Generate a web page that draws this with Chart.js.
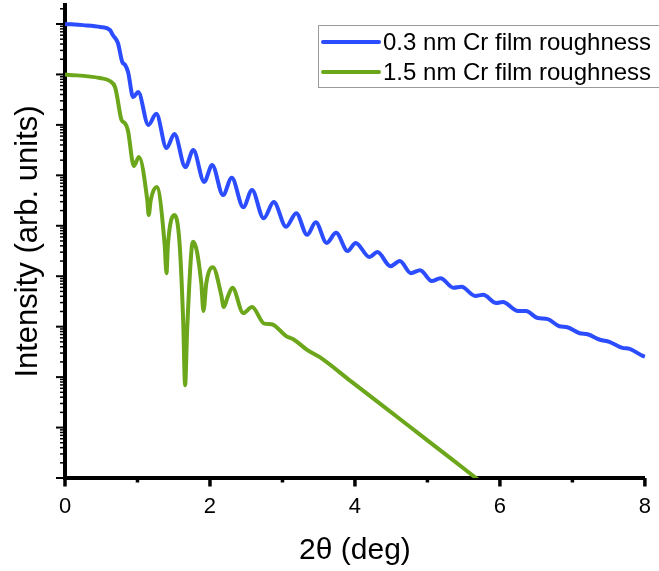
<!DOCTYPE html>
<html>
<head>
<meta charset="utf-8">
<script src="https://cdn.jsdelivr.net/npm/chart.js@4.4.1/dist/chart.umd.min.js"></script>
<style>
  html, body { margin: 0; padding: 0; background: #fff; }
</style>
</head>
<body>
<canvas id="xrr" width="659" height="571"></canvas>
<script>
const seriesLabels = ['0.3 nm Cr film roughness', '1.5 nm Cr film roughness'];
const seriesColors = ['#2b4cff', '#6ca61a'];

// 0.3 nm roughness curve: 2theta (deg) / intensity
const thinAngle = [0, 0.25, 0.49, 0.62, 0.66, 0.73, 0.79, 0.83, 0.87, 0.94,
    1.01, 1.15, 1.26, 1.40, 1.51, 1.66, 1.77, 1.92, 2.03, 2.18,
    2.30, 2.46, 2.58, 2.74, 2.88, 3.05, 3.19, 3.34, 3.46, 3.61,
    3.74, 3.90, 4.01, 4.20, 4.31, 4.49, 4.62, 4.77, 4.90, 5.06,
    5.18, 5.36, 5.47, 5.66, 5.77, 5.95, 6.04, 6.25, 6.36, 6.52,
    6.66, 6.82, 6.93, 7.10, 7.21, 7.38, 7.51, 7.69, 7.79, 7.97, 8.0];
const thinIntensity = [1.0, 0.95, 0.873, 0.760, 0.605, 0.420, 0.177, 0.154, 0.112, 0.0357,
    0.0447, 0.0100, 0.0166, 3.47e-3, 6.6e-3, 1.46e-3, 3.16e-3, 7.41e-4, 1.60e-3, 4.07e-4,
    8.91e-4, 2.34e-4, 5.13e-4, 1.41e-4, 2.95e-4, 9.55e-5, 1.78e-4, 6.61e-5, 1.17e-4, 4.57e-5,
    7.24e-5, 3.16e-5, 4.57e-5, 2.40e-5, 3.02e-5, 1.58e-5, 2.00e-5, 1.15e-5, 1.32e-5, 8.04e-6,
    9.12e-6, 5.89e-6, 6.17e-6, 4.07e-6, 4.27e-6, 2.95e-6, 3.09e-6, 2.04e-6, 2.04e-6, 1.48e-6,
    1.41e-6, 1.02e-6, 9.77e-7, 7.41e-7, 7.08e-7, 5.50e-7, 5.01e-7, 3.80e-7, 3.63e-7, 2.63e-7, 2.55e-7];

// 1.5 nm roughness curve
const roughAngle = [0, 0.48, 0.62, 0.69, 0.715, 0.78, 0.825, 0.867, 0.95, 1.02,
    1.135, 1.155, 1.183, 1.265, 1.375, 1.40, 1.42, 1.51, 1.58, 1.63,
    1.657, 1.685, 1.745, 1.77, 1.88, 1.91, 1.95, 2.04, 2.155, 2.19,
    2.245, 2.31, 2.46, 2.58, 2.75, 2.85, 3.05, 3.16, 3.34, 3.51,
    3.96, 4.43, 4.88, 5.34, 5.67, 5.98];
const roughIntensity = [0.1, 0.085, 0.0741, 0.0564, 0.0391, 0.0125, 0.0109, 7.9e-3, 1.53e-3, 2.31e-3,
    3.24e-4, 1.63e-4, 3.24e-4, 5.86e-4, 4.2e-5, 1.15e-5, 4.2e-5, 1.63e-4, 4.6e-5, 1.35e-6,
    6.9e-8, 8.5e-7, 3.3e-5, 4.8e-5, 7.4e-6, 2.04e-6, 7.4e-6, 1.51e-5, 4.3e-6, 2.45e-6,
    3.9e-6, 5.89e-6, 1.86e-6, 2.45e-6, 1.15e-6, 1.12e-6, 6.5e-7, 5.5e-7, 3.47e-7, 2.51e-7,
    7.94e-8, 2.40e-8, 7.59e-9, 2.34e-9, 1.0e-9, 4.57e-10];

const xMajorTicks = [0, 2, 4, 6, 8];
const xMinorTicks = [1, 3, 5, 7];
const yDecades = [1e-9, 1e-8, 1e-7, 1e-6, 1e-5, 1e-4, 1e-3, 1e-2, 1e-1, 1];

function toPoints(xs, ys) {
    return xs.map((x, i) => ({ x: x, y: ys[i] }));
}

// ticks are drawn by hand so majors and minors can have different lengths
const axisTicks = {
    id: 'axisTicks',
    afterDraw(chart) {
        const { ctx, chartArea } = chart;
        const xs = chart.scales.x, ys = chart.scales.y;
        ctx.save();
        ctx.strokeStyle = '#000';
        ctx.lineCap = 'butt';
        const bottom = chartArea.bottom;
        const left = chartArea.left;

        ctx.lineWidth = 3.5;
        for (const v of xMajorTicks) {
            const px = xs.getPixelForValue(v);
            ctx.beginPath(); ctx.moveTo(px, bottom); ctx.lineTo(px, bottom + 8.5); ctx.stroke();
        }
        for (const v of xMinorTicks) {
            const px = xs.getPixelForValue(v);
            ctx.beginPath(); ctx.moveTo(px, bottom); ctx.lineTo(px, bottom + 4.5); ctx.stroke();
        }

        for (const d of yDecades) {
            const py = ys.getPixelForValue(d);
            ctx.lineWidth = 2;
            ctx.beginPath(); ctx.moveTo(left, py); ctx.lineTo(left - 9, py); ctx.stroke();
            ctx.lineWidth = 1.5;
            for (let m = 2; m <= 9; m++) {
                const v = d * m;
                if (v > ys.max) break;
                const pm = ys.getPixelForValue(v);
                ctx.beginPath(); ctx.moveTo(left, pm); ctx.lineTo(left - 5, pm); ctx.stroke();
            }
        }
        ctx.restore();
    }
};

const legendBox = {
    id: 'legendBox',
    afterDraw(chart) {
        const { ctx } = chart;
        const boxLeft = 318, boxTop = 25, boxW = 350, boxH = 62;
        ctx.save();
        ctx.fillStyle = '#fff';
        ctx.fillRect(boxLeft, boxTop, boxW, boxH);
        ctx.strokeStyle = '#9a9a9a';
        ctx.lineWidth = 1;
        ctx.strokeRect(boxLeft + 0.5, boxTop + 0.5, boxW, boxH);
        ctx.font = '24px "Liberation Sans", Arial, sans-serif';
        ctx.textBaseline = 'middle';
        chart.data.datasets.forEach((ds, i) => {
            const y = boxTop + 17 + i * 30;
            ctx.strokeStyle = ds.borderColor;
            ctx.lineWidth = 4;
            ctx.lineCap = 'round';
            ctx.beginPath(); ctx.moveTo(323, y); ctx.lineTo(379, y); ctx.stroke();
            ctx.fillStyle = '#000';
            ctx.fillText(ds.label, 383, y + 1);
        });
        ctx.restore();
    }
};

const ctx = document.getElementById('xrr').getContext('2d');
new Chart(ctx, {
    type: 'line',
    data: {
        datasets: [
            {
                label: seriesLabels[0],
                data: toPoints(thinAngle, thinIntensity),
                borderColor: seriesColors[0],
                borderWidth: 4,
                pointRadius: 0,
                cubicInterpolationMode: 'monotone',
                clip: { left: 2, top: 2, right: 2, bottom: 0 }
            },
            {
                label: seriesLabels[1],
                data: toPoints(roughAngle, roughIntensity),
                borderColor: seriesColors[1],
                borderWidth: 4,
                pointRadius: 0,
                cubicInterpolationMode: 'monotone',
                clip: { left: 2, top: 2, right: 2, bottom: 0 }
            }
        ]
    },
    options: {
        responsive: false,
        animation: false,
        layout: { padding: { top: 5, right: 12, left: 0, bottom: 0 } },
        plugins: {
            legend: { display: false },
            tooltip: { enabled: false }
        },
        scales: {
            x: {
                type: 'linear',
                min: 0,
                max: 8,
                afterFit: (s) => { s.height = 93; },
                grid: { display: false, drawTicks: true, tickLength: 8 },
                border: { display: true, color: '#000', width: 4 },
                ticks: {
                    stepSize: 2,
                    padding: 8,
                    color: '#000',
                    font: { family: '"Liberation Sans", Arial, sans-serif', size: 22 }
                },
                title: {
                    display: true,
                    text: '2θ (deg)',
                    color: '#000',
                    padding: { top: 0, bottom: 2 },
                    font: { family: '"Liberation Sans", Arial, sans-serif', size: 30 }
                }
            },
            y: {
                type: 'logarithmic',
                min: 1e-9,
                max: 2.38,
                afterFit: (s) => { s.width = 65; },
                grid: { display: false, drawTicks: false },
                border: { display: true, color: '#000', width: 4 },
                ticks: { display: false },
                title: {
                    display: true,
                    text: 'Intensity (arb. units)',
                    color: '#000',
                    padding: { top: 10, bottom: 0 },
                    font: { family: '"Liberation Sans", Arial, sans-serif', size: 31 }
                }
            }
        }
    },
    plugins: [axisTicks, legendBox]
});
</script>
</body>
</html>
